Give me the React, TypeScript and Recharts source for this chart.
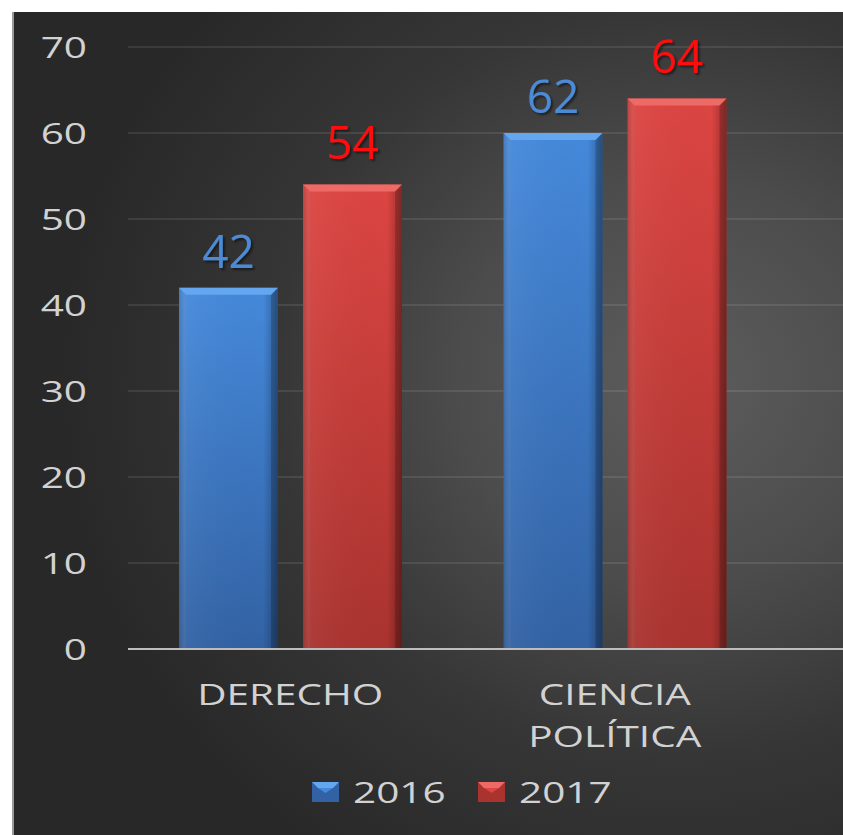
import React from "react";
import { BarChart, Bar, XAxis, YAxis, CartesianGrid, Legend, LabelList } from "recharts";

const categories = ["DERECHO", "CIENCIA POLÍTICA"];
const values2016 = [42, 60];
const values2017 = [54, 64];
const labels2016 = ["42", "62"];
const labels2017 = ["54", "64"];
const yTicks = [0, 10, 20, 30, 40, 50, 60, 70];
const seriesNames = ["2016", "2017"];

const data = categories.map((c, i) => ({
  name: c,
  v2016: values2016[i],
  v2017: values2017[i],
  l2016: labels2016[i],
  l2017: labels2017[i],
}));

const COLORS: Record<string, { top: string; bottom: string; bevel: string; label: string }> = {
  blue: { top: "#4589db", bottom: "#3262a4", bevel: "#64a6ef", label: "#4d8ad6" },
  red: { top: "#dc4542", bottom: "#a9332f", bevel: "#ee6a66", label: "#ff1010" },
};

const FONT = "'Open Sans', 'DejaVu Sans', sans-serif";
const TEXT = "#d2d2d2";
const SX = 1.35;

const makeShape = (key: string) => (props: any) => {
  const { x, y, width: w, height: h } = props;
  if (!h || h <= 0) return null;
  const b = 7;
  const c = COLORS[key];
  return (
    <g>
      <rect x={x} y={y} width={w} height={h} fill={`url(#gv-${key})`} />
      <rect x={x} y={y} width={w} height={h} fill="url(#gh)" />
      <polygon points={`${x},${y} ${x + b},${y + b} ${x + b},${y + h} ${x},${y + h}`} fill="rgba(255,255,255,0.05)" />
      <polygon points={`${x + w},${y} ${x + w - b},${y + b} ${x + w - b},${y + h} ${x + w},${y + h}`} fill="rgba(0,0,0,0.18)" />
      <polygon points={`${x},${y} ${x + w},${y} ${x + w - b},${y + b} ${x + b},${y + b}`} fill={c.bevel} />
    </g>
  );
};

const makeLabel = (key: string, labels: string[], gap: number) => (props: any) => {
  const { x, y, width, index } = props;
  const cx = x + width / 2;
  const by = y - gap;
  return (
    <text x={cx} y={by} textAnchor="middle" fontFamily={FONT} fontSize={46} fill={COLORS[key].label} filter="url(#lblShadow)">
      {labels[index]}
    </text>
  );
};

const YTick = (props: any) => {
  const { x, y, payload } = props;
  return (
    <g transform={`translate(${x - 41},${y + 11})`}>
      <text transform={`scale(${SX},1)`} textAnchor="end" fontFamily={FONT} fontSize={30} fill={TEXT}>
        {payload.value}
      </text>
    </g>
  );
};

const XTick = (props: any) => {
  const { x, y, payload } = props;
  const lines = String(payload.value).split(" ");
  return (
    <g>
      {lines.map((ln, i) => (
        <g key={i} transform={`translate(${x},${y + 56 + i * 42})`}>
          <text transform={`scale(${SX},1)`} textAnchor="middle" fontFamily={FONT} fontSize={30} fill={TEXT}>
            {ln}
          </text>
        </g>
      ))}
    </g>
  );
};

const LegendMarker = ({ x, y, k }: { x: number; y: number; k: string }) => {
  const w = 27;
  const h = 20;
  const b = 6;
  const c = COLORS[k];
  return (
    <g>
      <rect x={x} y={y} width={w} height={h} fill={c.bottom} />
      <polygon points={`${x},${y} ${x + w},${y} ${x + w - b},${y + b} ${x + b},${y + b}`} fill={c.bevel} />
      <polygon points={`${x + b},${y + b} ${x + w - b},${y + b} ${x + w / 2},${y + h * 0.55}`} fill={c.top} />
    </g>
  );
};

const renderLegend = () => {
  const keys = ["blue", "red"];
  const starts = [298, 464];
  return (
    <svg width={829} height={60} style={{ display: "block" }}>
      {seriesNames.map((n, i) => (
        <g key={n}>
          <LegendMarker x={starts[i]} y={27} k={keys[i]} />
          <g transform={`translate(${starts[i] + 41},48)`}>
            <text transform={`scale(${SX},1)`} fontFamily={FONT} fontSize={30} fill={TEXT}>
              {n}
            </text>
          </g>
        </g>
      ))}
    </svg>
  );
};

export default function App() {
  return (
    <div style={{ position: "absolute", left: 0, top: 0, width: 843, height: 835, background: "#ffffff", overflow: "hidden" }}>
      <div
        style={{
          position: "absolute",
          left: 12,
          top: 12,
          width: 829,
          height: 823,
          borderLeft: "2px solid #9a9a9a",
          background:
            "radial-gradient(ellipse 75% 70% at 80% 45%, #5d5d5d 0%, #4c4c4c 35%, #363636 65%, #282828 100%)",
        }}
      >
        <BarChart
          width={829}
          height={823}
          data={data}
          margin={{ top: 35, right: 0, left: 0, bottom: 20 }}
          barSize={99}
          barGap={25}
        >
          <defs>
            <linearGradient id="gv-blue" x1="0" y1="0" x2="0" y2="1">
              <stop offset="0%" stopColor={COLORS.blue.top} />
              <stop offset="100%" stopColor={COLORS.blue.bottom} />
            </linearGradient>
            <linearGradient id="gv-red" x1="0" y1="0" x2="0" y2="1">
              <stop offset="0%" stopColor={COLORS.red.top} />
              <stop offset="100%" stopColor={COLORS.red.bottom} />
            </linearGradient>
            <linearGradient id="gh" x1="0" y1="0" x2="1" y2="0">
              <stop offset="0%" stopColor="#000" stopOpacity={0.15} />
              <stop offset="10%" stopColor="#fff" stopOpacity={0.04} />
              <stop offset="85%" stopColor="#000" stopOpacity={0} />
              <stop offset="100%" stopColor="#000" stopOpacity={0.3} />
            </linearGradient>
            <filter id="lblShadow" x="-20%" y="-20%" width="140%" height="140%">
              <feDropShadow dx="2" dy="2" stdDeviation="1.2" floodColor="#000" floodOpacity="0.5" />
            </filter>
          </defs>
          <CartesianGrid vertical={false} stroke="rgba(255,255,255,0.12)" strokeWidth={1.5} />
          <XAxis
            dataKey="name"
            height={106}
            padding={{ left: 0, right: 66 }}
            axisLine={{ stroke: "#bdbdbd", strokeWidth: 2 }}
            tickLine={false}
            tickSize={0}
            tickMargin={0}
            tick={<XTick />}
            interval={0}
          />
          <YAxis
            width={114}
            domain={[0, 70]}
            ticks={yTicks}
            axisLine={false}
            tickLine={false}
            tickSize={0}
            tickMargin={0}
            tick={<YTick />}
          />
          <Legend verticalAlign="bottom" height={60} content={renderLegend} />
          <Bar dataKey="v2016" name={seriesNames[0]} shape={makeShape("blue")} isAnimationActive={false}>
            <LabelList dataKey="l2016" content={makeLabel("blue", labels2016, 20)} />
          </Bar>
          <Bar dataKey="v2017" name={seriesNames[1]} shape={makeShape("red")} isAnimationActive={false}>
            <LabelList dataKey="l2017" content={makeLabel("red", labels2017, 26)} />
          </Bar>
        </BarChart>
      </div>
    </div>
  );
}
